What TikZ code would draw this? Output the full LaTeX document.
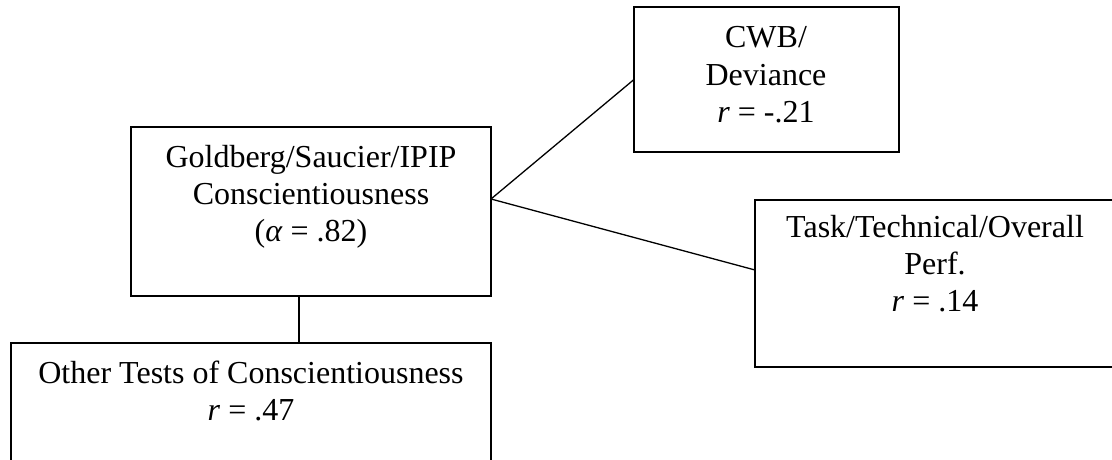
\documentclass[tikz,border=0pt]{standalone}
\usepackage{fontspec}
\setmainfont{Liberation Serif}
\begin{document}
\begin{tikzpicture}[x=1pt,y=-1pt,
  box/.style={draw=black,line width=1.6pt,inner sep=0pt,outer sep=0pt,rectangle},
  txt/.style={anchor=base,inner sep=0pt,font=\fontsize{32}{37}\selectfont},
  link/.style={draw=black,line width=1.3pt}]
\useasboundingbox (0,0) rectangle (1112,460);
\clip (0,0) rectangle (1112,460);
\fill[white] (0,0) rectangle (1112,460);

% boxes
\node[box,minimum width=360pt,minimum height=169pt] (main) at (311,211.5) {};
\node[box,minimum width=265pt,minimum height=145pt] (cwb) at (766.5,79.5) {};
\node[box,minimum width=361pt,minimum height=167pt] (task) at (935.5,283.5) {};
\node[box,minimum width=480pt,minimum height=157pt] (other) at (251,421.5) {};

% texts
\node[txt] (main1) at (311,167) {Goldberg/Saucier/IPIP};
\node[txt] (main2) at (311,204) {Conscientiousness};
\node[txt] (main3) at (311,241) {(\textit{α} = .82)};

\node[txt] (cwb1) at (766,48) {CWB/};
\node[txt] (cwb2) at (766,85) {Deviance};
\node[txt] (cwb3) at (766,122) {\textit{r} = -.21};

\node[txt] (task1) at (935,237) {Task/Technical/Overall};
\node[txt] (task2) at (935,274) {Perf.};
\node[txt] (task3) at (935,311) {\textit{r} = .14};

\node[txt] (other1) at (251,383) {Other Tests of Conscientiousness};
\node[txt] (other2) at (251,420) {\textit{r} = .47};

% connectors
\coordinate (hub) at ([yshift=12.5pt]main.east);
\draw[link] (hub) -- (cwb.west);
\draw[link] (hub) -- ([yshift=13.5pt]task.west);
\draw[link] ([xshift=-12pt]main.south) -- ([xshift=-12pt]main.south |- other.north);
\end{tikzpicture}
\end{document}
